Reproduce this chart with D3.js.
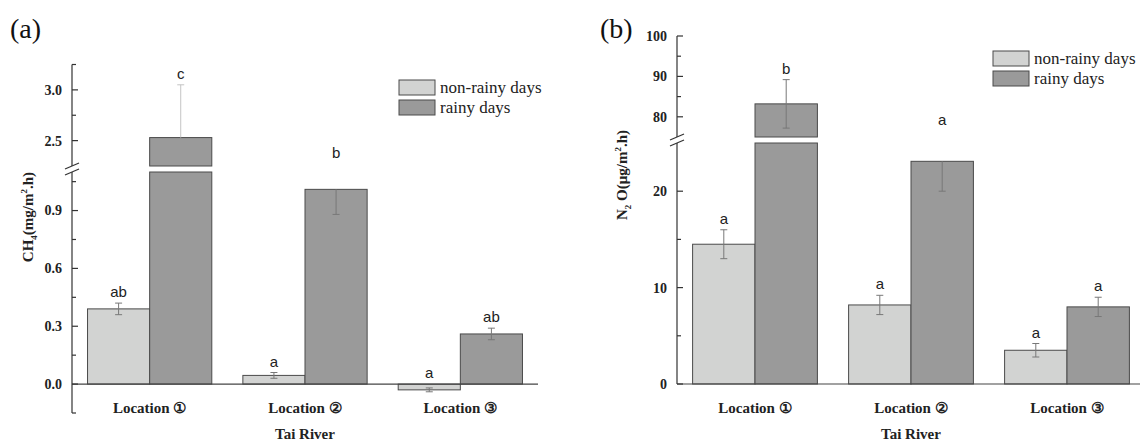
<!DOCTYPE html>
<html>
<meta charset=utf-8>
<title>CH4 and N2O flux, Tai River</title>
<style>
  body { margin: 0; background: #fff; }
  svg { display: block; }
</style>
<body>
<svg id=chart width=1140 height=442></svg>
<script src="https://cdnjs.cloudflare.com/ajax/libs/d3/7.8.5/d3.min.js"></script>
<script>
// categories / series
var locations = ["Location \u2460", "Location \u2461", "Location \u2462"];
var seriesNames = ["non-rainy days", "rainy days"];

// (a) CH4 (mg/m2.h)
var ch4NonRainy = [0.39, 0.045, -0.03];
var ch4NonRainyErr = [0.03, 0.015, 0.01];
var ch4Rainy = [2.53, 1.01, 0.26];
var ch4RainyErr = [0.52, 0.13, 0.03];
var ch4LettersNonRainy = ["ab", "a", "a"];
var ch4LettersRainy = ["c", "b", "ab"];
var ch4MajorTicks = [0.0, 0.3, 0.6, 0.9, 2.5, 3.0];
var ch4MinorTicks = [-0.15, 0.15, 0.45, 0.75, 1.05, 2.75, 3.25];

// (b) N2O (ug/m2.h)
var n2oNonRainy = [14.5, 8.2, 3.5];
var n2oNonRainyErr = [1.5, 1.0, 0.7];
var n2oRainy = [83.2, 23.1, 8.0];
var n2oRainyErr = [6.0, 3.1, 1.0];
var n2oLettersNonRainy = ["a", "a", "a"];
var n2oLettersRainy = ["b", "a", "a"];
var n2oMajorTicks = [0, 10, 20, 80, 90, 100];
var n2oMinorTicks = [5, 15, 85, 95];

var colors = ["#d2d3d2", "#9a9a9a"];
var SERIF = "'Liberation Serif', 'Times New Roman', Times, 'DejaVu Serif', serif";
var SANS = "'Liberation Sans', Arial, Helvetica, sans-serif";
var svg = d3.select("#chart");

function drawPanel(cfg) {
    var g = svg.append("g");
    var x0 = cfg.x0, x1 = cfg.x1;

    // two y segments: lower and upper, separated by the break
    var yLow = d3.scaleLinear().domain(cfg.lowDomain).range([cfg.lowBottom, cfg.lowTop]);
    var yUp = d3.scaleLinear().domain(cfg.upDomain).range([cfg.upBottom, cfg.upTop]);
    var segs = [yLow, yUp];

    var xBand = d3.scaleBand().domain(locations).range([x0, x1]).paddingInner(0.2).paddingOuter(0.1);
    var xSub = d3.scaleBand().domain([0, 1]).range([0, xBand.bandwidth()]);

    function segOf(v) {
        for (var i = 0; i < segs.length; i++) {
            var d = segs[i].domain();
            if (v >= d[0] && v <= d[1]) return i;
        }
        return -1;
    }

    var series = [
        {vals: cfg.nonRainy, err: cfg.nonRainyErr, letters: cfg.lettersNonRainy, k: 0},
        {vals: cfg.rainy, err: cfg.rainyErr, letters: cfg.lettersRainy, k: 1}
    ];

    // bars, one piece per segment
    series.forEach(function (s) {
        s.vals.forEach(function (v, i) {
            var bx = xBand(locations[i]) + xSub(s.k);
            segs.forEach(function (sc) {
                var d = sc.domain();
                var lo = Math.max(Math.min(0, v), d[0]);
                var hi = Math.min(Math.max(0, v), d[1]);
                if (hi <= lo) return;
                g.append("rect")
                    .attr("x", bx).attr("width", xSub.bandwidth())
                    .attr("y", sc(hi)).attr("height", sc(lo) - sc(hi))
                    .attr("fill", colors[s.k])
                    .attr("stroke", "#4a4a4a").attr("stroke-width", 1);
            });
        });
    });

    // error bars: each half only when its end sits in the same segment as the mean
    series.forEach(function (s) {
        s.vals.forEach(function (v, i) {
            var cx = xBand(locations[i]) + xSub(s.k) + xSub.bandwidth() / 2;
            var si = segOf(v);
            if (si < 0) return;
            var sc = segs[si];
            [v - s.err[i], v + s.err[i]].forEach(function (e) {
                if (segOf(e) !== si) return;
                var col = (s.k === 1 && e > v && si === 1) ? cfg.overColor : "#787878";
                g.append("line").attr("x1", cx).attr("x2", cx).attr("y1", sc(v)).attr("y2", sc(e))
                    .attr("stroke", col).attr("stroke-width", 1);
                g.append("line").attr("x1", cx - 3.5).attr("x2", cx + 3.5).attr("y1", sc(e)).attr("y2", sc(e))
                    .attr("stroke", col).attr("stroke-width", 1);
            });
        });
    });

    // significance letters
    series.forEach(function (s) {
        s.vals.forEach(function (v, i) {
            var cx = xBand(locations[i]) + xSub(s.k) + xSub.bandwidth() / 2;
            var top = Math.max(v + s.err[i], 0);
            var sc = top >= cfg.upDomain[0] ? yUp : yLow;
            g.append("text").attr("font-family", SANS)
                .attr("x", cx).attr("y", sc(top) - 6)
                .attr("text-anchor", "middle").attr("font-size", 15).attr("fill", "#222")
                .text(s.letters[i]);
        });
    });

    // x baseline at zero
    g.append("line").attr("x1", x0).attr("x2", x1).attr("y1", yLow(0)).attr("y2", yLow(0))
        .attr("stroke", "#444").attr("stroke-width", 1.2);

    // y axis line segments
    segs.forEach(function (sc) {
        var r = sc.range();
        g.append("line").attr("x1", x0).attr("x2", x0).attr("y1", r[0]).attr("y2", r[1])
            .attr("stroke", "#333").attr("stroke-width", 1.2);
    });
    // break marks
    [cfg.upBottom, cfg.lowTop].forEach(function (yb) {
        g.append("line").attr("x1", x0 - 7).attr("x2", x0 + 7)
            .attr("y1", yb + 3).attr("y2", yb - 3)
            .attr("stroke", "#333").attr("stroke-width", 1.2);
    });

    function scaleFor(t) {
        return t <= cfg.lowDomain[1] ? yLow : yUp;
    }
    cfg.major.forEach(function (t) {
        var y = scaleFor(t)(t);
        g.append("line").attr("x1", x0).attr("x2", x0 + 6).attr("y1", y).attr("y2", y)
            .attr("stroke", "#333").attr("stroke-width", 1.2);
        g.append("text").attr("font-family", SERIF)
            .attr("x", x0 - 10).attr("y", y).attr("dy", "0.35em")
            .attr("text-anchor", "end").attr("font-size", 14).attr("font-weight", "bold")
            .attr("fill", "#222")
            .text(cfg.fmt(t));
    });
    cfg.minor.forEach(function (t) {
        var y = scaleFor(t)(t);
        g.append("line").attr("x1", x0).attr("x2", x0 + 4).attr("y1", y).attr("y2", y)
            .attr("stroke", "#333").attr("stroke-width", 1.2);
    });

    // x labels
    locations.forEach(function (l) {
        g.append("text").attr("font-family", SERIF)
            .attr("x", xBand(l) + xBand.bandwidth() / 2).attr("y", 413)
            .attr("text-anchor", "middle").attr("font-size", 15).attr("font-weight", "bold")
            .attr("fill", "#222").text(l);
    });
    g.append("text").attr("font-family", SERIF)
        .attr("x", (x0 + x1) / 2).attr("y", 439)
        .attr("text-anchor", "middle").attr("font-size", 15).attr("font-weight", "bold")
        .attr("fill", "#222").text("Tai River");

    // y title
    var yt = g.append("text").attr("font-family", SERIF)
        .attr("transform", "translate(" + cfg.titleX + "," + cfg.titleY + ") rotate(-90)")
        .attr("text-anchor", "middle").attr("font-size", 15).attr("font-weight", "bold")
        .attr("fill", "#222");
    cfg.title.forEach(function (p) {
        var ts = yt.append("tspan").text(p[0]);
        if (p[1] === "sub") ts.attr("font-size", 9).attr("baseline-shift", "-4");
        if (p[1] === "sup") ts.attr("font-size", 9).attr("baseline-shift", "6");
    });

    // panel label
    g.append("text").attr("font-family", SERIF)
        .attr("x", cfg.labelX).attr("y", 38).attr("font-size", 28).attr("fill", "#111")
        .text(cfg.label);

    // legend
    var lg = g.append("g").attr("transform", "translate(" + cfg.legX + "," + cfg.legY + ")");
    seriesNames.forEach(function (n, i) {
        lg.append("rect").attr("x", 0).attr("y", i * 20).attr("width", 36).attr("height", 15)
            .attr("fill", colors[i]).attr("stroke", "#4a4a4a").attr("stroke-width", 1);
        lg.append("text").attr("font-family", SERIF)
            .attr("x", 41).attr("y", i * 20 + 12.5).attr("font-size", 17).attr("fill", "#222")
            .text(n);
    });
}

drawPanel({
    id: "a", label: "(a)", labelX: 10,
    x0: 72, x1: 538,
    lowDomain: [-0.15, 1.1], lowBottom: 413, lowTop: 172,
    upDomain: [2.25, 3.25], upBottom: 166, upTop: 64.5,
    nonRainy: ch4NonRainy, nonRainyErr: ch4NonRainyErr,
    rainy: ch4Rainy, rainyErr: ch4RainyErr,
    lettersNonRainy: ch4LettersNonRainy, lettersRainy: ch4LettersRainy,
    major: ch4MajorTicks, minor: ch4MinorTicks, fmt: d3.format(".1f"),
    overColor: "#c4c4c4",
    title: [["CH"], ["4", "sub"], ["(mg/m"], ["2", "sup"], [".h)"]],
    titleX: 33, titleY: 217,
    legX: 399, legY: 80
});

drawPanel({
    id: "b", label: "(b)", labelX: 600,
    x0: 677, x1: 1145,
    lowDomain: [0, 25], lowBottom: 384, lowTop: 143,
    upDomain: [75, 100], upBottom: 137, upTop: 36,
    nonRainy: n2oNonRainy, nonRainyErr: n2oNonRainyErr,
    rainy: n2oRainy, rainyErr: n2oRainyErr,
    lettersNonRainy: n2oLettersNonRainy, lettersRainy: n2oLettersRainy,
    major: n2oMajorTicks, minor: n2oMinorTicks, fmt: d3.format("d"),
    overColor: "#787878",
    title: [["N"], ["2", "sub"], [" O(\u03bcg/m"], ["2", "sup"], [".h)"]],
    titleX: 627, titleY: 175,
    legX: 993, legY: 51
});
</script>
</body>
</html>
